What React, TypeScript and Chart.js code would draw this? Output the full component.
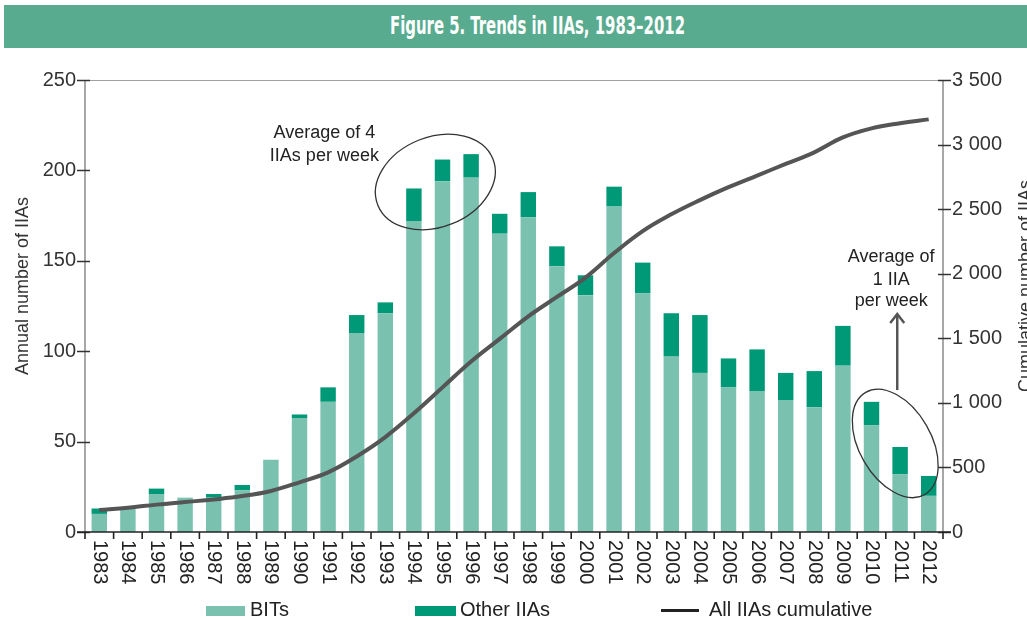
import React, { useEffect, useRef } from 'react';
import { Chart, registerables } from 'chart.js';

Chart.register(...registerables);

const years = ['1983','1984','1985','1986','1987','1988','1989','1990','1991','1992','1993','1994','1995','1996','1997','1998','1999','2000','2001','2002','2003','2004','2005','2006','2007','2008','2009','2010','2011','2012'];
const bits = [10, 13, 21, 19, 19, 23, 40, 63, 72, 110, 121, 172, 194, 196, 165, 174, 147, 131, 180, 132, 97, 88, 80, 78, 73, 69, 92, 59, 32, 20];
const otherIIAs = [3, 0, 3, 0, 2, 3, 0, 2, 8, 10, 6, 18, 12, 13, 11, 14, 11, 11, 11, 17, 24, 32, 16, 23, 15, 20, 22, 13, 15, 11];
const cumulative = [170, 188, 212, 232, 252, 278, 318, 385, 462, 585, 735, 920, 1120, 1320, 1495, 1670, 1820, 1970, 2160, 2330, 2460, 2570, 2670, 2760, 2850, 2940, 3055, 3125, 3165, 3195];
const leftTicks = [0, 50, 100, 150, 200, 250];
const rightTicks = [0, 500, 1000, 1500, 2000, 2500, 3000, 3500];

const TITLE = 'Figure 5. Trends in IIAs, 1983\u20132012';
const LEFT_TITLE = 'Annual number of IIAs';
const RIGHT_TITLE = 'Cumulative number of IIAs';
const NOTE1 = ['Average of 4', 'IIAs per week'];
const NOTE2 = ['Average of', '1 IIA', 'per week'];

const LIGHT = '#7AC1B0';
const DARK = '#009977';
const LINE = '#555555';
const FONT = '"Liberation Sans", Arial, Helvetica, sans-serif';

function fmtThousands(v: number): string {
  if (v >= 1000) {
    const t = Math.floor(v / 1000);
    const r = String(v % 1000).padStart(3, '0');
    return `${t} ${r}`;
  }
  return String(v);
}

const overlay = {
  id: 'overlay',
  afterDraw(chart: any) {
    const { ctx, chartArea: ca, scales } = chart;
    const x = scales.x, y = scales.y, y1 = scales.y1;
    const ln = (x0: number, y0: number, x1: number, y1p: number) => {
      ctx.beginPath(); ctx.moveTo(x0, y0); ctx.lineTo(x1, y1p); ctx.stroke();
    };
    ctx.save();
    // frame
    ctx.strokeStyle = '#a0a0a0'; ctx.lineWidth = 1;
    ln(ca.left, ca.top + 0.5, ca.right, ca.top + 0.5);
    ctx.strokeStyle = '#8a8a8a'; ctx.lineWidth = 1.5;
    ln(ca.left, ca.top, ca.left, ca.bottom);
    ln(ca.right, ca.top, ca.right, ca.bottom);
    // y ticks
    ctx.strokeStyle = '#333'; ctx.lineWidth = 1.5;
    leftTicks.forEach((v) => { const py = Math.round(y.getPixelForValue(v)) + 0.5; ln(ca.left - 8, py, ca.left + 5, py); });
    rightTicks.forEach((v) => { const py = Math.round(y1.getPixelForValue(v)) + 0.5; ln(ca.right - 5, py, ca.right + 8, py); });
    // bottom axis
    ctx.strokeStyle = '#222'; ctx.lineWidth = 1.6;
    ln(ca.left - 8, ca.bottom, ca.right + 8, ca.bottom);
    for (let i = 0; i <= years.length; i++) {
      const px = x.getPixelForValue(i - 0.5);
      ln(px, ca.bottom, px, ca.bottom + 7);
    }
    // x labels
    ctx.fillStyle = '#222';
    ctx.font = `20px ${FONT}`;
    ctx.textAlign = 'left';
    ctx.textBaseline = 'middle';
    years.forEach((lab, i) => {
      const px = x.getPixelForValue(i);
      ctx.save();
      ctx.translate(px, ca.bottom + 8);
      ctx.rotate(Math.PI / 2);
      ctx.fillText(lab, 0, 0);
      ctx.restore();
    });
    // axis titles
    ctx.font = `18px ${FONT}`;
    ctx.fillStyle = '#333';
    ctx.textAlign = 'center';
    ctx.textBaseline = 'alphabetic';
    ctx.save(); ctx.translate(28, 286); ctx.rotate(-Math.PI / 2); ctx.fillText(LEFT_TITLE, 0, 0); ctx.restore();
    ctx.save(); ctx.translate(1031, 286); ctx.rotate(-Math.PI / 2); ctx.fillText(RIGHT_TITLE, 0, 0); ctx.restore();

    // annotation 1
    ctx.strokeStyle = '#333'; ctx.lineWidth = 1.3;
    ctx.beginPath();
    ctx.ellipse(x.getPixelForValue(11.75), y.getPixelForValue(193.6), 62, 45, -22 * Math.PI / 180, 0, Math.PI * 2);
    ctx.stroke();
    ctx.fillStyle = '#222';
    ctx.font = `18px ${FONT}`;
    ctx.textAlign = 'center';
    ctx.textBaseline = 'middle';
    const n1x = x.getPixelForValue(7.87);
    ctx.fillText(NOTE1[0], n1x, y.getPixelForValue(220.7));
    ctx.fillText(NOTE1[1], n1x, y.getPixelForValue(208));

    // annotation 2
    ctx.beginPath();
    ctx.ellipse(x.getPixelForValue(27.83), y.getPixelForValue(49), 59, 36, 60 * Math.PI / 180, 0, Math.PI * 2);
    ctx.stroke();
    const ax = x.getPixelForValue(27.9);
    const aTop = y.getPixelForValue(121.1);
    const aBot = y.getPixelForValue(78.5);
    ctx.strokeStyle = LINE; ctx.lineWidth = 2.5;
    ln(ax, aBot, ax, aTop + 1);
    ctx.beginPath();
    ctx.moveTo(ax - 7, aTop + 10); ctx.lineTo(ax, aTop + 1); ctx.lineTo(ax + 7, aTop + 10);
    ctx.stroke();
    const n2x = x.getPixelForValue(27.69);
    ctx.fillText(NOTE2[0], n2x, y.getPixelForValue(152.1));
    ctx.fillText(NOTE2[1], n2x, y.getPixelForValue(139.4));
    ctx.fillText(NOTE2[2], n2x, y.getPixelForValue(127.8));
    ctx.restore();
  },
};

export default function App() {
  const canvasRef = useRef<HTMLCanvasElement | null>(null);
  const titleRef = useRef<HTMLSpanElement | null>(null);

  useEffect(() => {
    const span = titleRef.current;
    if (span) {
      span.style.transform = 'none';
      const w = span.getBoundingClientRect().width;
      if (w > 0) span.style.transform = `scaleX(${295 / w})`;
    }
    const canvas = canvasRef.current;
    if (!canvas) return;
    const chart = new Chart(canvas, {
      type: 'bar',
      data: {
        labels: years,
        datasets: [
          {
            type: 'line',
            label: 'All IIAs cumulative',
            data: cumulative,
            yAxisID: 'y1',
            borderColor: LINE,
            borderWidth: 4,
            pointRadius: 0,
            tension: 0.4,
            fill: false,
            order: 0,
          } as any,
          {
            type: 'bar',
            label: 'BITs',
            data: bits,
            yAxisID: 'y',
            backgroundColor: LIGHT,
            barPercentage: 0.54,
            categoryPercentage: 1,
            order: 1,
          },
          {
            type: 'bar',
            label: 'Other IIAs',
            data: otherIIAs,
            yAxisID: 'y',
            backgroundColor: DARK,
            barPercentage: 0.54,
            categoryPercentage: 1,
            order: 2,
          },
        ],
      },
      options: {
        animation: false,
        responsive: false,
        devicePixelRatio: 1,
        layout: { padding: { top: 80, left: 0, right: 0, bottom: 29 } },
        plugins: { legend: { display: false }, tooltip: { enabled: false }, title: { display: false } },
        scales: {
          x: {
            type: 'category',
            stacked: true,
            offset: true,
            grid: { display: false, drawTicks: false },
            border: { display: false },
            ticks: { display: false },
            afterFit: (s: any) => { s.height = 60; },
          },
          y: {
            position: 'left',
            stacked: true,
            min: 0,
            max: 250,
            grid: { display: false, drawTicks: false },
            border: { display: false },
            ticks: { stepSize: 50, padding: 9, color: '#333', font: { family: FONT, size: 20 } },
            afterFit: (s: any) => { s.width = 85; },
          },
          y1: {
            position: 'right',
            stacked: false,
            min: 0,
            max: 3500,
            grid: { display: false, drawTicks: false },
            border: { display: false },
            ticks: {
              stepSize: 500, padding: 9, color: '#333', font: { family: FONT, size: 20 },
              callback: (v: any) => fmtThousands(Number(v)),
            },
            afterFit: (s: any) => { s.width = 84; },
          },
        },
      } as any,
      plugins: [overlay],
    });
    return () => chart.destroy();
  }, []);

  const legendText: React.CSSProperties = {
    position: 'absolute', top: 598, fontFamily: FONT, fontSize: 20, lineHeight: '22px', color: '#222', whiteSpace: 'nowrap',
  };

  return (
    <div style={{ position: 'absolute', left: 0, top: 0, width: 1027, height: 621, overflow: 'hidden', background: '#fff' }}>
      <canvas ref={canvasRef} width={1027} height={621} style={{ position: 'absolute', left: 0, top: 0, width: 1027, height: 621 }} />
      <div style={{ position: 'absolute', left: 4, top: 5, width: 1023, height: 43, background: '#58AB8F' }}>
        <span
          ref={titleRef}
          style={{
            position: 'absolute', left: 386, top: 7, fontFamily: '"Liberation Sans Narrow", "DejaVu Sans Condensed", "Liberation Sans", sans-serif',
            fontWeight: 'bold', fontSize: 24, lineHeight: '28px', color: '#fff', whiteSpace: 'nowrap', transformOrigin: 'left center', display: 'inline-block',
          }}
        >{TITLE}</span>
      </div>
      <div style={{ position: 'absolute', left: 206, top: 606, width: 39, height: 10, background: LIGHT }} />
      <div style={{ ...legendText, left: 250 }}>BITs</div>
      <div style={{ position: 'absolute', left: 415, top: 606, width: 41, height: 10, background: DARK }} />
      <div style={{ ...legendText, left: 460 }}>Other IIAs</div>
      <div style={{ position: 'absolute', left: 661, top: 609, width: 38, height: 3, background: '#222' }} />
      <div style={{ ...legendText, left: 709 }}>All IIAs cumulative</div>
    </div>
  );
}
